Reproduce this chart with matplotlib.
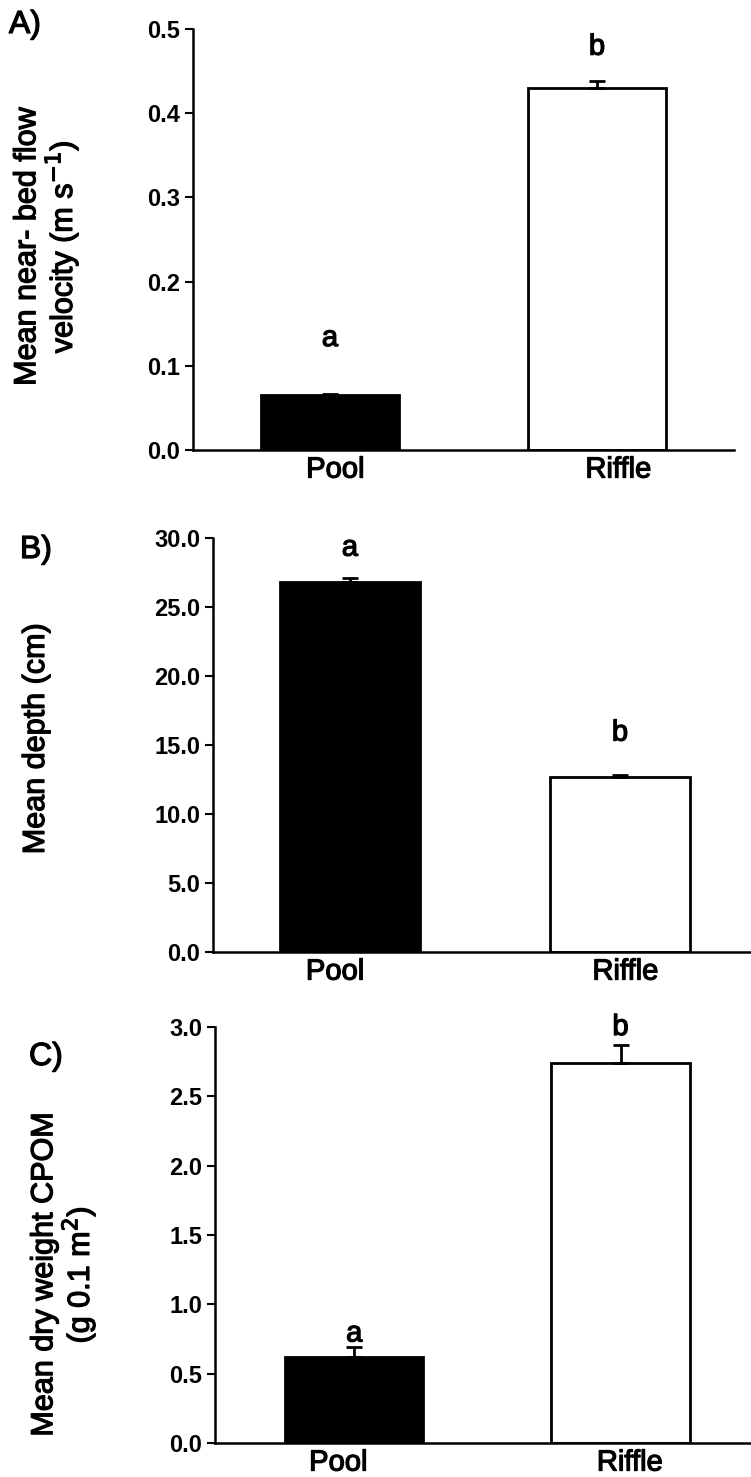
import numpy as np
import matplotlib.pyplot as plt
import matplotlib.patheffects as pe

plt.rcParams['font.family'] = ['Liberation Sans', 'DejaVu Sans']

# Pool vs riffle habitat measurements
sites = ['Pool', 'Riffle']

velocity = [0.065, 0.43]
velocity_se = [0.002, 0.008]
velocity_letters = ['a', 'b']

depth = [26.8, 12.7]
depth_se = [0.3, 0.15]
depth_letters = ['a', 'b']

cpom = [0.62, 2.74]
cpom_se = [0.07, 0.13]
cpom_letters = ['a', 'b']

W, H = 751, 1477
fig = plt.figure(figsize=(W / 100, H / 100), dpi=100)

# slightly heavier strokes for regular-weight text
heavy = [pe.withStroke(linewidth=0.9, foreground='black')]


def px_axes(left, right, top, bottom):
    return fig.add_axes([left / W, 1 - bottom / H, (right - left) / W, (bottom - top) / H])


def bar_panel(ax, values, errs, letters, letter_y, ylim, yticks, xlim, label_shift):
    x = np.arange(len(sites))
    ax.bar(x, values, width=0.52, color=['black', 'white'],
           edgecolor='black', linewidth=2, zorder=2)
    ax.errorbar(x, values, yerr=[np.zeros(len(values)), errs], fmt='none',
                ecolor='black', elinewidth=2, capsize=6, capthick=2, zorder=3)
    for xi, lt, ly in zip(x, letters, letter_y):
        ax.text(xi, ly, lt, ha='center', va='center', fontsize=21,
                path_effects=heavy, clip_on=False)
    ax.set_xlim(*xlim)
    ax.set_ylim(*ylim)
    ax.set_yticks(yticks)
    ax.set_yticklabels(['{:.1f}'.format(t) for t in yticks], fontsize=17,
                       fontweight='bold')
    # category names sit a little off the bar centres (x ticks are hidden)
    ax.set_xticks(x + np.asarray(label_shift))
    ax.set_xticklabels(sites, fontsize=21, path_effects=heavy)
    ax.tick_params(axis='x', length=0, pad=4)
    ax.tick_params(axis='y', direction='out', length=6, width=1.5, pad=3)
    for side in ['top', 'right']:
        ax.spines[side].set_visible(False)
    for side in ['left', 'bottom']:
        ax.spines[side].set_linewidth(1.8)


def ylabel(x, y, text):
    fig.text(x / W, 1 - y / H, text, rotation=90, ha='center', va='center',
             fontsize=22, linespacing=1.0, path_effects=heavy)


def panel_tag(x, y, text):
    fig.text(x / W, 1 - y / H, text, ha='center', va='center',
             fontsize=23, path_effects=heavy)


# A) flow velocity
ax1 = px_axes(193, 734, 29, 450)
bar_panel(ax1, velocity, velocity_se, velocity_letters, [0.133, 0.479],
          (0, 0.5), [0.0, 0.1, 0.2, 0.3, 0.4, 0.5], (-0.513, 1.513), (0.02, 0.08))
ylabel(47, 247, 'Mean near- bed flow\nvelocity (m s$^{-1}$)')
panel_tag(25, 25, 'A)')

# B) depth
ax2 = px_axes(213, 751, 538, 952)
bar_panel(ax2, depth, depth_se, depth_letters, [29.3, 15.9],
          (0, 30), [0, 5, 10, 15, 20, 25, 30], (-0.507, 1.485), (-0.055, 0.02))
ylabel(36, 739, 'Mean depth (cm)')
panel_tag(36, 550, 'B)')

# C) CPOM dry weight
ax3 = px_axes(215, 751, 1027, 1443)
bar_panel(ax3, cpom, cpom_se, cpom_letters, [0.79, 3.0],
          (0, 3), [0.0, 0.5, 1.0, 1.5, 2.0, 2.5, 3.0], (-0.523, 1.49), (-0.06, 0.035))
ylabel(64, 1275, 'Mean dry weight CPOM\n(g 0.1 m$^{2}$)')
panel_tag(46, 1057, 'C)')

fig.savefig('out.png', dpi=100)
